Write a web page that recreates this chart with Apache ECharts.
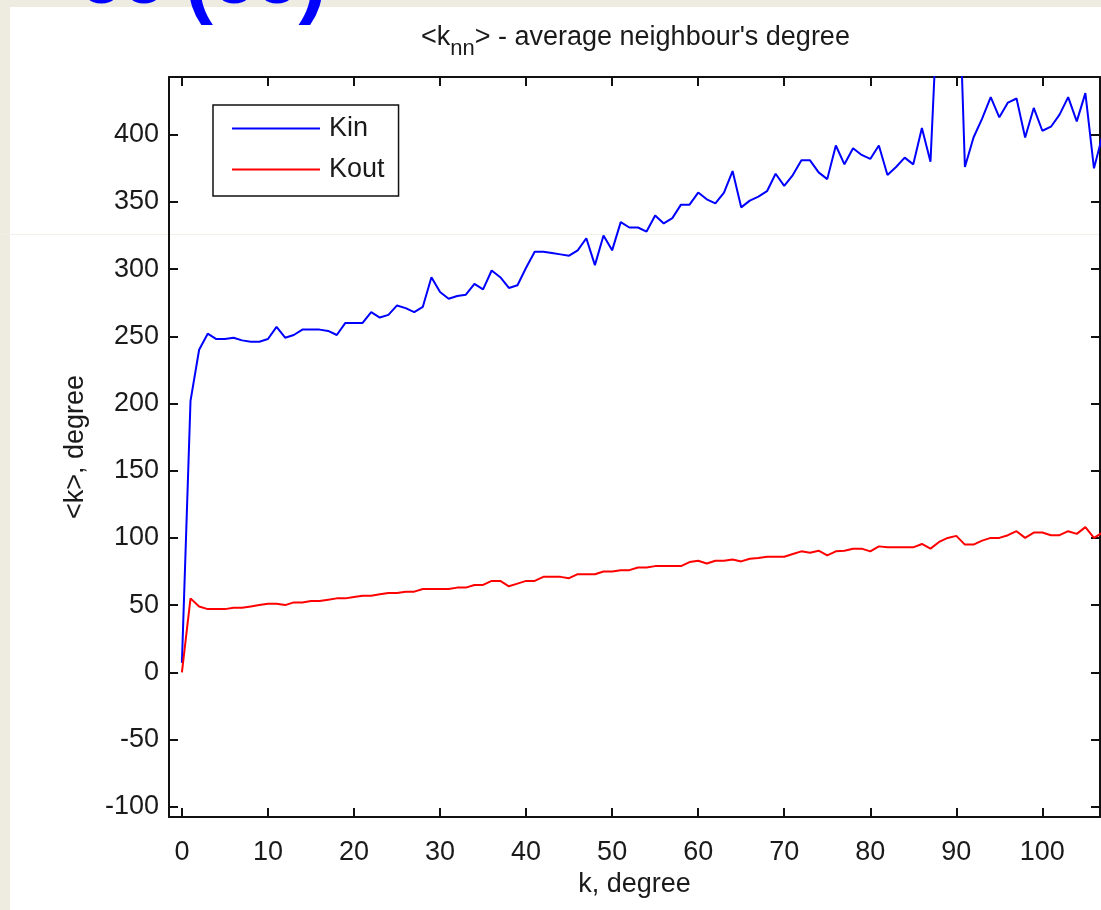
<!DOCTYPE html>
<html>
<head>
<meta charset="utf-8">
<script src="https://cdn.jsdelivr.net/npm/echarts@6/dist/echarts.min.js"></script>
<style>
html,body{margin:0;padding:0;background:#eeece1;}
#chart{width:1101px;height:910px;}
</style>
</head>
<body>
<div id="chart"></div>
<script>
// ---- data ----
const kValues = [0,1,2,3,4,5,6,7,8,9,10,11,12,13,14,15,16,17,18,19,20,21,22,23,24,25,26,27,28,29,30,31,32,33,34,35,36,37,38,39,40,41,42,43,44,45,46,47,48,49,50,51,52,53,54,55,56,57,58,59,60,61,62,63,64,65,66,67,68,69,70,71,72,73,74,75,76,77,78,79,80,81,82,83,84,85,86,87,88,89,90,91,92,93,94,95,96,97,98,99,100,101,102,103,104,105,106,107];
const kinValues = [7,202,240,252,248,248,249,247,246,246,248,257,249,251,255,255,255,254,251,260,260,260,268,264,266,273,271,268,272,294,283,278,280,281,289,285,299,294,286,288,301,313,313,312,311,310,314,323,303,325,314,335,331,331,328,340,334,338,348,348,357,352,349,357,373,346,351,354,358,371,362,370,381,381,372,367,392,378,390,385,382,392,370,376,383,378,405,380,520,560,576,376,398,412,428,413,424,427,398,420,403,406,415,428,410,431,375,400];
const koutValues = [0,55,49,47,47,47,48,48,49,50,51,51,50,52,52,53,53,54,55,55,56,57,57,58,59,59,60,60,62,62,62,62,63,63,65,65,68,68,64,66,68,68,71,71,71,70,73,73,73,75,75,76,76,78,78,79,79,79,79,82,83,81,83,83,84,82.5,84.5,85,86,86,86,88,90,89,90.5,87,90,90.5,92,92,90,93.7,93,93,93,93,95.5,92,97,100,101.5,95,95,98,100,100,102,105,100,104,104,102,102,105,103,108,100,104];
const xTickValues = [0,10,20,30,40,50,60,70,80,90,100];
const yTickValues = [-100,-50,0,50,100,150,200,250,300,350,400];
const seriesNames = ['Kin','Kout'];

const FONT = 'Liberation Sans';
const FS = 27;
const TXT = '#1a1a1a';
const AX = '#111';

const kinData = kValues.map((k,i)=>[k, kinValues[i]]);
const koutData = kValues.map((k,i)=>[k, koutValues[i]]);

const xMin = -1.5, xMax = 106.7, yMin = -107.7, yMax = 443;

function axisBase(pos, showLabel, ticks){
  const isX = (pos==='bottom'||pos==='top');
  return {
    type:'value', position:pos, min:isX?xMin:yMin, max:isX?xMax:yMax,
    axisLine:{show:true, onZero:false, lineStyle:{color:AX, width:2}},
    axisTick:{show:true, inside:true, length:9, lineStyle:{color:AX, width:2}, customValues:ticks},
    axisLabel:{show:showLabel, customValues:ticks, fontFamily:FONT, fontSize:FS, color:TXT},
    splitLine:{show:false}
  };
}

const xb = axisBase('bottom', true, xTickValues);
xb.axisLabel.margin = 22;
xb.name = 'k, degree';
xb.nameLocation = 'middle';
xb.nameGap = 52;
xb.nameTextStyle = {fontFamily:FONT, fontSize:FS, color:TXT};
const xt = axisBase('top', false, xTickValues);
const yl = axisBase('left', true, yTickValues);
yl.axisLabel.margin = 10;
yl.name = '<k>, degree';
yl.nameLocation = 'middle';
yl.nameGap = 80;
yl.nameTextStyle = {fontFamily:FONT, fontSize:FS, color:TXT};
const yr = axisBase('right', false, yTickValues);

const chart = echarts.init(document.getElementById('chart'), null, {renderer:'canvas'});
chart.setOption({
  animation:false,
  backgroundColor:'#eeece1',
  graphic:[
    {type:'rect', z:-10, shape:{x:10,y:7,width:1100,height:910}, style:{fill:'#ffffff'}},
    {type:'line', z:-9, shape:{x1:0,y1:234.5,x2:1101,y2:234.5}, style:{stroke:'#f1f0e8', lineWidth:1}},
    {type:'text', z:-8, style:{
      text:'{l|oo }{p|(}{l|oo}{p|)}', x:80, y:-57, fill:'#0000ff',
      rich:{
        l:{fontFamily:'Liberation Sans', fontWeight:'bold', fontSize:70, fill:'#0000ff', verticalAlign:'top', padding:[6,0,0,0]},
        p:{fontFamily:'Liberation Sans', fontWeight:'bold', fontSize:84, fill:'#0000ff', verticalAlign:'top'}
      }
    }}
  ],
  title:{
    text:'{a|<k}{s|nn}{a|> - average neighbour\'s degree}',
    left:416, top:19,
    textStyle:{rich:{
      a:{fontFamily:FONT, fontSize:FS, fontWeight:'normal', color:TXT, verticalAlign:'top', lineHeight:30},
      s:{fontFamily:FONT, fontSize:22, fontWeight:'normal', color:TXT, verticalAlign:'top', lineHeight:30, padding:[14,0,0,0]}
    }}
  },
  grid:{left:169, top:77, right:1, bottom:93, containLabel:false},
  xAxis:[xb, xt],
  yAxis:[yl, yr],
  legend:{
    data:seriesNames, orient:'vertical', left:213, top:105,
    backgroundColor:'#fff', borderColor:'#111', borderWidth:1.5,
    padding:[10,14,13,18], itemGap:14, itemWidth:88, itemHeight:14,
    itemStyle:{opacity:0},
    textStyle:{fontFamily:FONT, fontSize:FS, color:TXT, padding:[0,0,0,4]}
  },
  series:[
    {name:seriesNames[0], type:'line', data:kinData, symbol:'none', xAxisIndex:0, yAxisIndex:0,
     lineStyle:{color:'#0000ff', width:2}, itemStyle:{color:'#0000ff'}},
    {name:seriesNames[1], type:'line', data:koutData, symbol:'none', xAxisIndex:0, yAxisIndex:0,
     lineStyle:{color:'#ff0000', width:2}, itemStyle:{color:'#ff0000'}}
  ]
});
</script>
</body>
</html>
